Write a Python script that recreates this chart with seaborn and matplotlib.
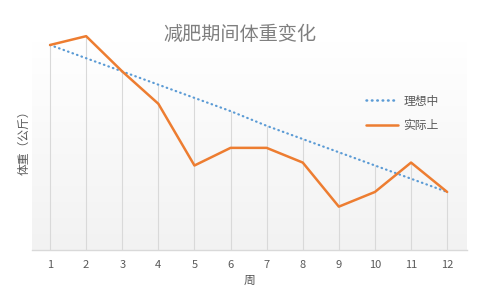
import numpy as np
import pandas as pd
import matplotlib
matplotlib.use("Agg")
import matplotlib.pyplot as plt
import seaborn as sns

weeks = [1, 2, 3, 4, 5, 6, 7, 8, 9, 10, 11, 12]
ideal = [80.0, 79.1, 78.2, 77.3, 76.4, 75.5, 74.5, 73.6, 72.7, 71.8, 70.9, 70.0]
actual = [80.0, 80.6, 78.2, 76.0, 71.8, 73.0, 73.0, 72.0, 69.0, 70.0, 72.0, 70.0]
series_names = ["理想中", "实际上"]
title = "减肥期间体重变化"
xlabel = "周"
ylabel = "体重（公斤）"

sns.set_theme(style="white")
plt.rcParams["font.family"] = ["Noto Sans CJK SC", "DejaVu Sans"]

df = pd.DataFrame({
    "周": weeks * 2,
    "体重": ideal + actual,
    "系列": [series_names[0]] * len(weeks) + [series_names[1]] * len(weeks),
})

fig = plt.figure(figsize=(4.8, 3.05), dpi=100)
fig.patch.set_facecolor("white")
ax = fig.add_axes([32 / 480, 55 / 305, 435 / 480, 220 / 305])
ax.set_facecolor("none")

ymin, ymax = 66.05, 81.02
ax.set_ylim(ymin, ymax)
ax.set_xlim(0.5, 12.55)

# gradient background of the plot area
grad = np.linspace(0, 1, 256).reshape(-1, 1)
cmap = matplotlib.colors.LinearSegmentedColormap.from_list("bg", ["#f2f2f2", "#ffffff"])
ax.imshow(grad, aspect="auto", cmap=cmap, origin="lower",
          extent=[0, 1, 0, (250 - 42) / 220], transform=ax.transAxes, zorder=0)

# drop lines
tops = [max(a, b) for a, b in zip(ideal, actual)]
ax.vlines(weeks, ymin, tops, color="#d9d9d9", lw=0.8, zorder=1)

palette = {series_names[0]: "#5B9BD5", series_names[1]: "#ED7D31"}
sns.lineplot(data=df, x="周", y="体重", hue="系列", style="系列",
             palette=palette, dashes={series_names[0]: (0.25, 1.9), series_names[1]: ""},
             lw=1.8, ax=ax, zorder=3, legend=True)
for ln in ax.get_lines():
    ln.set_dash_capstyle("round")
ax.get_lines()[0].set_linewidth(1.6)

ax.set_xticks(weeks)
ax.set_xticklabels([str(w) for w in weeks], fontsize=8, color="#595959")
ax.set_yticks([])
ax.tick_params(axis="x", length=0, pad=7)
for s in ["top", "right", "left"]:
    ax.spines[s].set_visible(False)
ax.spines["bottom"].set_color("#d9d9d9")
ax.spines["bottom"].set_linewidth(1.0)

ax.set_xlabel(xlabel, fontsize=8.5, color="#595959", labelpad=3)
ax.set_ylabel(ylabel, fontsize=8.5, color="#595959", labelpad=1)

fig.text(240 / 480, 1 - 34 / 305, title, ha="center", va="center",
         fontsize=13.8, color="#7f7f7f")

leg = ax.legend(loc="upper left", bbox_to_anchor=(323 / 435, 1 - (84 - 30) / 220),
                frameon=False, fontsize=8.5, handlelength=2.7, labelspacing=1.0,
                handletextpad=0.5)
for t in leg.get_texts():
    t.set_color("#595959")
for h in leg.get_lines():
    h.set_dash_capstyle("round")

fig.savefig("out.png", dpi=100, facecolor="white")
